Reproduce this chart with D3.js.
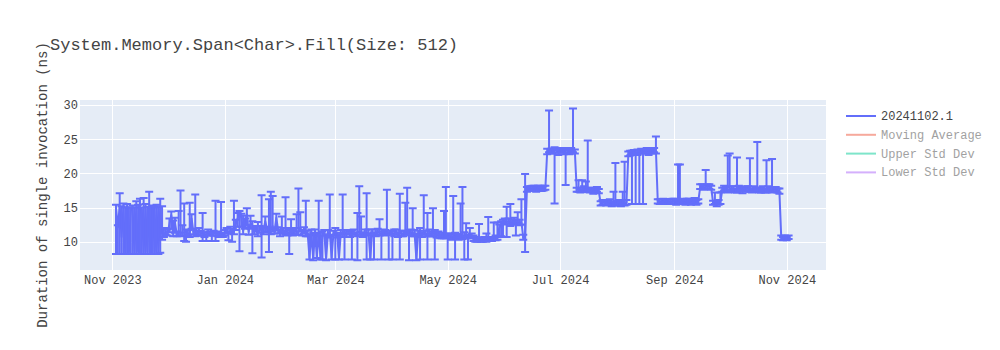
<!DOCTYPE html>
<html>
<head>
<meta charset="utf-8">
<script src="https://cdn.jsdelivr.net/npm/d3@7"></script>
<style>
  body { margin: 0; background: #fff; }
  text { font-family: "Liberation Mono", "Courier New", monospace; }
</style>
</head>
<body>
<svg id="chart" width="1000" height="350"></svg>
<script>
// Benchmark runs: one entry per run date
const dates = [
  // 2023-11
  "2023-11-03","2023-11-04","2023-11-05","2023-11-06","2023-11-07","2023-11-08","2023-11-09","2023-11-10","2023-11-11","2023-11-12",
  "2023-11-13","2023-11-14","2023-11-15","2023-11-16","2023-11-17","2023-11-18","2023-11-19","2023-11-20","2023-11-21","2023-11-22",
  "2023-11-23","2023-11-24","2023-11-25","2023-11-26","2023-11-27","2023-11-28","2023-11-29","2023-11-30",
  // 2023-12
  "2023-12-01","2023-12-02","2023-12-03","2023-12-04","2023-12-05","2023-12-06","2023-12-07","2023-12-08","2023-12-09","2023-12-10",
  "2023-12-11","2023-12-12","2023-12-13","2023-12-14","2023-12-15","2023-12-16","2023-12-17","2023-12-18","2023-12-19","2023-12-20",
  "2023-12-21","2023-12-22","2023-12-23","2023-12-24","2023-12-25","2023-12-26","2023-12-27","2023-12-28","2023-12-29","2023-12-30",
  "2023-12-31",
  // 2024-01
  "2024-01-01","2024-01-02","2024-01-03","2024-01-04","2024-01-05","2024-01-06","2024-01-07","2024-01-08","2024-01-09","2024-01-10",
  "2024-01-11","2024-01-12","2024-01-13","2024-01-14","2024-01-15","2024-01-16","2024-01-17","2024-01-18","2024-01-19","2024-01-20",
  "2024-01-21","2024-01-22","2024-01-23","2024-01-24","2024-01-25","2024-01-26","2024-01-27","2024-01-28","2024-01-29","2024-01-30",
  "2024-01-31",
  // 2024-02
  "2024-02-01","2024-02-02","2024-02-03","2024-02-04","2024-02-05","2024-02-06","2024-02-07","2024-02-08","2024-02-09","2024-02-10",
  "2024-02-11","2024-02-12","2024-02-13","2024-02-14","2024-02-15","2024-02-16","2024-02-17","2024-02-18","2024-02-19","2024-02-20",
  "2024-02-21","2024-02-22","2024-02-23","2024-02-24","2024-02-25","2024-02-26","2024-02-27","2024-02-28","2024-02-29",
  // 2024-03
  "2024-03-01","2024-03-02","2024-03-03","2024-03-04","2024-03-05","2024-03-06","2024-03-07","2024-03-08","2024-03-09","2024-03-10",
  "2024-03-11","2024-03-12","2024-03-13","2024-03-14","2024-03-15","2024-03-16","2024-03-17","2024-03-18","2024-03-19","2024-03-20",
  "2024-03-21","2024-03-22","2024-03-23","2024-03-24","2024-03-25","2024-03-26","2024-03-27","2024-03-28","2024-03-29","2024-03-30",
  "2024-03-31",
  // 2024-04
  "2024-04-01","2024-04-02","2024-04-03","2024-04-04","2024-04-05","2024-04-06","2024-04-07","2024-04-08","2024-04-09","2024-04-10",
  "2024-04-11","2024-04-12","2024-04-13","2024-04-14","2024-04-15","2024-04-16","2024-04-17","2024-04-18","2024-04-19","2024-04-20",
  "2024-04-21","2024-04-22","2024-04-23","2024-04-24","2024-04-25","2024-04-26","2024-04-27","2024-04-28","2024-04-29","2024-04-30",
  // 2024-05
  "2024-05-01","2024-05-02","2024-05-03","2024-05-04","2024-05-05","2024-05-06","2024-05-07","2024-05-08","2024-05-09","2024-05-10",
  "2024-05-11","2024-05-12","2024-05-13","2024-05-14","2024-05-15","2024-05-16","2024-05-17","2024-05-18","2024-05-19","2024-05-20",
  "2024-05-21","2024-05-22","2024-05-23","2024-05-24","2024-05-25","2024-05-26","2024-05-27","2024-05-28","2024-05-29","2024-05-30",
  "2024-05-31",
  // 2024-06
  "2024-06-01","2024-06-02","2024-06-03","2024-06-04","2024-06-05","2024-06-06","2024-06-07","2024-06-08","2024-06-09","2024-06-10",
  "2024-06-11","2024-06-12","2024-06-13","2024-06-14","2024-06-15","2024-06-16","2024-06-17","2024-06-18","2024-06-19","2024-06-20",
  "2024-06-21","2024-06-22","2024-06-23","2024-06-24","2024-06-25","2024-06-26","2024-06-27","2024-06-28","2024-06-29","2024-06-30",
  // 2024-07
  "2024-07-01","2024-07-02","2024-07-03","2024-07-04","2024-07-05","2024-07-06","2024-07-07","2024-07-08","2024-07-09","2024-07-10",
  "2024-07-11","2024-07-12","2024-07-13","2024-07-14","2024-07-15","2024-07-16","2024-07-17","2024-07-18","2024-07-19","2024-07-20",
  "2024-07-21","2024-07-22","2024-07-23","2024-07-24","2024-07-25","2024-07-26","2024-07-27","2024-07-28","2024-07-29","2024-07-30",
  "2024-07-31",
  // 2024-08
  "2024-08-01","2024-08-02","2024-08-03","2024-08-04","2024-08-05","2024-08-06","2024-08-07","2024-08-08","2024-08-09","2024-08-10",
  "2024-08-11","2024-08-12","2024-08-13","2024-08-14","2024-08-15","2024-08-16","2024-08-17","2024-08-18","2024-08-19","2024-08-20",
  "2024-08-21","2024-08-22","2024-08-23","2024-08-24","2024-08-25","2024-08-26","2024-08-27","2024-08-28","2024-08-29","2024-08-30",
  "2024-08-31",
  // 2024-09
  "2024-09-01","2024-09-02","2024-09-03","2024-09-04","2024-09-05","2024-09-06","2024-09-07","2024-09-08","2024-09-09","2024-09-10",
  "2024-09-11","2024-09-12","2024-09-13","2024-09-14","2024-09-15","2024-09-16","2024-09-17","2024-09-18","2024-09-19","2024-09-20",
  "2024-09-21","2024-09-22","2024-09-23","2024-09-24","2024-09-25","2024-09-26","2024-09-27","2024-09-28","2024-09-29","2024-09-30",
  // 2024-10
  "2024-10-01","2024-10-02","2024-10-03","2024-10-04","2024-10-05","2024-10-06","2024-10-07","2024-10-08","2024-10-09","2024-10-10",
  "2024-10-11","2024-10-12","2024-10-13","2024-10-14","2024-10-15","2024-10-16","2024-10-17","2024-10-18","2024-10-19","2024-10-20",
  "2024-10-21","2024-10-22","2024-10-23","2024-10-24","2024-10-25","2024-10-26","2024-10-27","2024-10-28","2024-10-29","2024-10-30",
  "2024-10-31",
  // 2024-11
  "2024-11-01","2024-11-02"
];

// Mean duration of a single invocation (ns)
const durations = [
  15.0,12.1,15.2,10.7,14.9,8.4,15.1,8.5,14.8,15.0, 8.3,14.9,8.6,15.1,14.7,8.4,15.0,8.5,15.2,8.4, 14.9,8.3,15.1,8.6,14.8,11.2,11.0,11.4,
  11.2,12.6,13.9,11.3,12.8,11.1,11.5,11.2,11.4,11.3, 11.5,11.2,11.1,13.4,11.4,11.3,11.2,11.5,11.3,11.2, 11.0,11.1,11.3,11.2,11.0,11.2,11.3,11.1,11.0,11.2, 11.0,
  11.3,11.5,11.2,11.6,11.4,11.5,12.6,13.4,14.2,13.5, 11.6,12.9,14.0,11.5,12.7,12.4,11.6,11.8,11.4,11.7, 12.1,11.6,13.0,11.8,12.0,11.7,12.3,11.5,13.5,11.6, 11.4,
  11.7,11.5,11.6,11.4,11.3,11.5,11.2,11.6,11.4,11.5, 12.1,11.3,11.5,11.4,11.2,7.6,11.3,7.5,11.4,7.8, 11.2,7.6,11.0,11.3,7.5,11.1,11.4,7.7,11.2,
  11.5,11.0,7.6,11.3,11.2,11.4,11.1,11.3,11.0,11.2, 11.4,11.1,11.3,11.5,11.2,11.0,11.3,11.2,11.4,7.6, 11.3,11.0,11.2,11.4,11.3,11.1,11.5,11.2,11.4,11.0, 11.3,
  11.1,11.2,11.4,11.0,11.3,11.2,11.1,11.5,11.3,11.2, 11.4,11.1,11.3,7.5,11.2,11.4,11.1,11.3,11.2,11.0, 11.3,11.1,11.2,11.4,10.9,11.0,10.8,10.9,10.8,10.9,
  10.8,10.9,10.7,10.8,10.9,10.8,10.7,10.9,10.8,10.9, 10.8,10.7,10.9,10.8,10.4,10.3,10.2,10.4,10.3,10.2, 10.4,10.3,10.5,10.3,10.4,10.6,10.5,10.7,12.0,12.4, 12.8,
  12.9,12.9,13.0,12.8,12.9,13.0,12.8,12.9,12.7,12.9, 10.6,10.4,17.6,17.8,17.7,17.9,17.8,17.6,17.8,17.9, 17.7,17.8,17.9,23.2,23.4,23.3,23.2,23.5,23.3,23.1,
  23.4,23.3,23.2,23.4,23.3,23.1,23.3,23.4,23.2,17.6, 17.7,17.5,17.6,17.8,17.6,17.7,17.5,17.6,17.4,17.5, 17.6,17.4,15.6,15.7,15.8,15.6,15.7,15.8,15.6,15.7, 15.8,
  15.6,15.7,15.5,15.8,15.6,15.7,22.8,23.0,23.0,23.1, 22.9,23.1,23.1,23.2,23.2,23.2,23.3,23.1,23.3,23.2, 23.4,23.3,15.9,15.8,15.9,16.0,15.8,15.9,15.9,15.8, 16.0,
  15.9,15.8,15.9,16.0,15.8,15.9,15.8,16.0,15.9,15.8, 15.9,16.0,15.8,15.9,18.0,18.1,17.9,18.0,18.1,18.0, 17.9,15.7,15.8,15.6,15.7,15.8,17.6,17.8,17.7,17.5,
  17.6,17.8,17.7,17.5,17.6,17.8,17.7,17.5,17.6,17.7, 17.8,17.6,17.5,17.7,17.6,17.8,17.5,17.6,17.7,17.5, 17.6,17.8,17.6,17.5,17.7,17.6,17.5,17.4,10.6,10.5, 10.6,
  10.5,10.6
];

// Upper error (ns above the mean)
const errorPlus = [
  0.4,0.3,1.9,4.5,0.7,6.6,0.4,6.5,0.2,0.3, 6.7,1.0,6.8,1.2,0.3,8.0,0.5,6.6,2.1,6.6, 0.4,6.9,0.3,6.4,1.5,4.0,1.0,0.5,
  0.6,0.8,0.5,1.8,0.7,0.4,3.0,6.3,1.0,4.3, 0.3,0.5,4.6,0.6,0.4,5.6,0.4,0.5,0.3,3.0, 0.4,0.3,0.5,0.3,0.4,0.4,4.7,0.4,0.3,4.6, 0.3,
  0.4,0.5,0.3,0.6,0.5,4.5,0.6,0.8,0.3,0.6, 2.2,0.5,0.9,0.6,1.1,0.6,0.4,0.5,1.5,0.6, 4.7,0.5,0.7,0.4,4.2,5.6,4.4,0.5,0.6,0.5, 0.4,
  2.0,0.5,4.9,0.6,0.4,1.8,0.5,0.4,2.6,6.3, 2.2,0.4,0.6,4.6,0.4,3.5,0.5,3.8,0.4,3.4, 4.8,3.7,0.5,0.4,3.6,0.6,5.5,3.3,0.4,
  0.5,0.3,3.5,0.4,5.7,0.3,0.5,0.4,0.6,0.5, 0.4,0.3,2.9,6.6,2.5,0.4,0.5,5.9,0.4,3.6, 0.5,0.4,0.6,0.5,2.0,0.4,0.3,0.5,6.2,0.4, 0.3,
  0.5,0.6,0.4,0.4,5.7,0.4,0.5,4.2,6.6,0.5, 0.4,3.8,0.4,3.7,0.4,0.6,0.3,5.5,0.4,3.2, 0.5,0.4,3.7,0.3,0.4,0.5,0.3,0.4,3.7,7.1,
  0.4,0.3,0.4,5.9,0.4,0.3,0.4,4.7,7.2,0.5, 1.9,0.3,1.1,0.4,0.5,0.4,0.3,2.2,0.3,0.4, 0.3,0.9,3.1,0.4,0.3,2.2,0.4,2.1,0.5,0.6, 0.4,
  0.5,2.2,0.4,2.7,0.3,0.5,0.4,1.4,0.5,3.3, 0.4,9.5,0.4,0.3,0.4,0.3,0.4,0.3,0.4,0.3, 0.3,0.4,0.3,0.4,5.8,0.3,0.4,0.3,0.4,0.3,
  0.3,0.4,0.3,0.3,0.4,0.3,0.4,6.1,0.3,0.3, 1.3,0.4,1.4,0.3,1.2,7.1,0.4,0.3,0.4,0.3, 0.4,0.3,0.3,0.4,0.3,0.4,0.3,0.4,0.3,1.6, 5.7,
  0.3,0.4,0.3,1.5,6.1,0.4,0.4,0.3,0.3,0.3, 0.4,0.4,0.3,0.4,0.3,0.3,0.4,0.3,0.3,0.4, 0.3,2.1,0.3,0.4,0.3,0.3,0.4,0.3,0.3,0.4, 0.3,
  0.4,0.3,5.4,5.3,0.3,0.4,0.3,0.3,0.4,0.3, 0.3,0.4,0.3,0.3,0.4,0.3,0.4,2.5,0.3,0.4, 0.3,0.3,1.4,0.3,0.4,1.4,0.3,0.4,0.3,5.1,
  5.3,0.3,0.4,0.3,4.7,0.4,0.3,0.4,0.3,0.4, 0.3,4.6,0.3,0.4,0.3,6.8,0.4,0.3,0.4,0.3, 4.3,0.3,0.4,4.6,0.3,0.4,0.3,0.4,0.3,0.2, 0.3,
  0.2,0.3
];

// Lower error (ns below the mean)
const errorMinus = [
  6.8,3.9,7.0,2.5,6.7,0.2,6.9,0.3,6.6,6.8, 0.1,6.7,0.4,6.9,6.5,0.2,6.8,0.3,7.0,0.2, 6.7,0.1,6.9,0.4,6.4,0.9,0.3,0.4,
  0.3,1.2,2.0,0.5,1.5,0.3,0.6,0.4,0.5,1.2, 1.5,0.3,0.4,1.5,0.3,0.5,0.3,0.6,0.4,1.1, 0.3,1.0,0.4,0.3,0.9,0.3,1.2,0.3,0.3,0.4, 0.3,
  0.4,0.3,1.0,0.4,1.4,0.4,0.9,1.2,5.6,1.3, 0.5,1.0,1.6,0.5,0.8,4.1,0.5,0.3,0.6,0.4, 4.4,0.5,1.5,0.4,3.5,0.6,0.8,0.3,1.8,0.4, 0.6,
  0.4,0.3,0.6,0.5,3.1,0.4,0.3,0.5,0.4,0.5, 0.6,0.4,0.3,0.6,0.4,0.2,0.4,0.2,0.3,0.2, 0.4,0.2,3.6,0.4,0.2,0.5,0.6,0.3,0.3,
  4.1,0.4,0.2,0.3,0.5,4.0,0.4,0.3,0.3,3.8, 0.4,0.3,4.0,0.5,0.4,0.3,0.4,3.8,0.4,0.2, 0.3,3.6,0.4,0.4,0.4,3.7,0.5,0.3,0.4,3.6, 0.3,
  3.7,0.4,0.4,0.3,3.9,0.4,0.3,0.4,0.3,3.9, 0.4,0.3,0.5,0.2,0.3,4.0,0.4,0.3,0.4,3.6, 0.5,0.3,0.4,4.0,0.3,0.4,0.3,0.4,0.3,0.4,
  3.4,0.3,0.4,0.3,3.5,0.3,0.4,0.3,0.4,3.5, 0.3,3.3,0.4,0.3,0.3,0.3,0.2,0.3,0.3,0.2, 0.3,0.3,0.3,0.2,0.3,0.3,0.3,0.4,1.3,1.6, 2.1,
  0.4,2.2,0.3,0.5,0.4,0.3,1.9,0.4,0.3,0.4, 0.3,1.9,0.3,0.4,0.3,0.3,0.4,0.3,0.3,0.4, 0.3,0.3,0.3,0.4,0.3,0.4,0.3,7.9,0.3,0.4,
  0.3,0.3,0.4,5.1,0.3,0.3,0.4,0.3,0.3,0.3, 0.4,0.3,0.3,0.4,0.3,0.4,0.3,0.3,0.4,0.3, 0.3,0.3,0.3,0.3,0.4,0.3,0.3,0.3,0.4,0.3, 0.3,
  0.3,0.4,0.3,0.3,0.3,0.3,0.3,0.4,7.5,0.3, 7.4,0.4,7.6,0.3,7.7,0.3,0.3,0.4,0.3,0.3, 0.3,0.4,0.3,0.3,0.4,0.3,0.3,0.4,0.3,0.3, 0.4,
  0.3,0.4,0.3,0.3,0.3,0.3,0.4,0.3,0.3,0.4, 0.3,0.3,0.4,0.3,0.3,0.4,0.3,0.3,0.4,0.3, 0.3,0.3,0.3,0.4,0.3,0.3,0.3,0.3,0.4,0.3,
  0.3,0.4,0.3,0.3,0.4,0.3,0.3,0.4,0.3,0.3, 0.4,0.3,0.3,0.4,0.3,0.3,0.3,0.4,0.3,0.3, 0.4,0.3,0.3,0.3,0.4,0.3,0.3,0.4,0.3,0.3, 0.2,
  0.3,0.2
];

const yTickValues = [10, 15, 20, 25, 30];
const legendNames = ["20241102.1", "Moving Average", "Upper Std Dev", "Lower Std Dev"];
const legendColors = ["#636efa", "#EF553B", "#00cc96", "#ab63fa"];
const legendShown = [true, false, false, false];
const chartTitle = "System.Memory.Span<Char>.Fill(Size: 512)";
const yAxisTitle = "Duration of single invocation (ns)";

// Layout
const W = 1000, H = 350;
const plot = { left: 80, right: 826, top: 100, bottom: 270 };
const traceColor = "#636efa";
const textColor = "#444";

const parse = d3.utcParse("%Y-%m-%d");
const points = dates.map((d, i) => ({
  date: parse(d),
  v: durations[i],
  hi: durations[i] + errorPlus[i],
  lo: durations[i] - errorMinus[i]
}));

const x = d3.scaleUtc()
  .domain([Date.UTC(2023, 9, 14, 11), Date.UTC(2024, 10, 22, 7)])
  .range([plot.left, plot.right]);
const y = d3.scaleLinear()
  .domain([5.86, 30.73])
  .range([plot.bottom, plot.top]);

const svg = d3.select("#chart");
svg.append("rect").attr("width", W).attr("height", H).attr("fill", "#fff");

// Plot background
svg.append("rect")
  .attr("x", plot.left).attr("y", plot.top)
  .attr("width", plot.right - plot.left).attr("height", plot.bottom - plot.top)
  .attr("fill", "#e5ecf6");

svg.append("clipPath").attr("id", "plot-clip")
  .append("rect")
  .attr("x", plot.left).attr("y", plot.top)
  .attr("width", plot.right - plot.left).attr("height", plot.bottom - plot.top);

// Grid lines
const xTicks = x.ticks(d3.utcMonth.every(2));
svg.append("g").selectAll("line").data(xTicks).join("line")
  .attr("x1", d => Math.round(x(d)) + 0.5).attr("x2", d => Math.round(x(d)) + 0.5)
  .attr("y1", plot.top).attr("y2", plot.bottom)
  .attr("stroke", "#fff").attr("stroke-width", 1);
svg.append("g").selectAll("line").data(yTickValues).join("line")
  .attr("x1", plot.left).attr("x2", plot.right)
  .attr("y1", d => Math.round(y(d)) + 0.5).attr("y2", d => Math.round(y(d)) + 0.5)
  .attr("stroke", "#fff").attr("stroke-width", 1);

// Axes (labels only)
const xAxis = d3.axisBottom(x).tickValues(xTicks).tickFormat(d3.utcFormat("%b %Y")).tickSize(0).tickPadding(5);
const gx = svg.append("g").attr("transform", `translate(0,${plot.bottom})`).call(xAxis);
gx.select(".domain").remove();
gx.selectAll("text").attr("fill", textColor).style("font-size", "12px")
  .style("font-family", '"Liberation Mono", "Courier New", monospace');

const yAxis = d3.axisLeft(y).tickValues(yTickValues).tickSize(0).tickPadding(2);
const gy = svg.append("g").attr("transform", `translate(${plot.left},0)`).call(yAxis);
gy.select(".domain").remove();
gy.selectAll("text").attr("fill", textColor).style("font-size", "12px")
  .style("font-family", '"Liberation Mono", "Courier New", monospace');

// Series line and error bars
const body = svg.append("g").attr("clip-path", "url(#plot-clip)");
const line = d3.line().x(d => x(d.date)).y(d => y(d.v));
body.append("path")
  .datum(points)
  .attr("d", line)
  .attr("fill", "none")
  .attr("stroke", traceColor)
  .attr("stroke-width", 2)
  .attr("stroke-linejoin", "round");

const cap = 4;
body.append("g").selectAll("path").data(points).join("path")
  .attr("d", d => {
    const px = x(d.date), t = y(d.hi), b = y(d.lo);
    return `M${px - cap},${t}H${px + cap}M${px},${t}V${b}M${px - cap},${b}H${px + cap}`;
  })
  .attr("fill", "none")
  .attr("stroke", traceColor)
  .attr("stroke-width", 2);

// Title
svg.append("text")
  .attr("x", 50).attr("y", 50)
  .attr("fill", textColor)
  .style("font-size", "17px")
  .text(chartTitle);

// Y axis title
svg.append("text")
  .attr("transform", `translate(47,${(plot.top + plot.bottom) / 2}) rotate(-90)`)
  .attr("text-anchor", "middle")
  .attr("fill", textColor)
  .style("font-size", "14px")
  .text(yAxisTitle);

// Legend
const legend = svg.append("g").attr("transform", "translate(846,116)");
legendNames.forEach((name, i) => {
  const g = legend.append("g")
    .attr("transform", `translate(0,${i * 18.8})`)
    .attr("opacity", legendShown[i] ? 1 : 0.5);
  g.append("line")
    .attr("x1", 0).attr("x2", 30).attr("y1", 0).attr("y2", 0)
    .attr("stroke", legendColors[i]).attr("stroke-width", 2);
  g.append("text")
    .attr("x", 35).attr("y", 4)
    .attr("fill", textColor)
    .style("font-size", "12px")
    .text(name);
});
</script>
</body>
</html>
